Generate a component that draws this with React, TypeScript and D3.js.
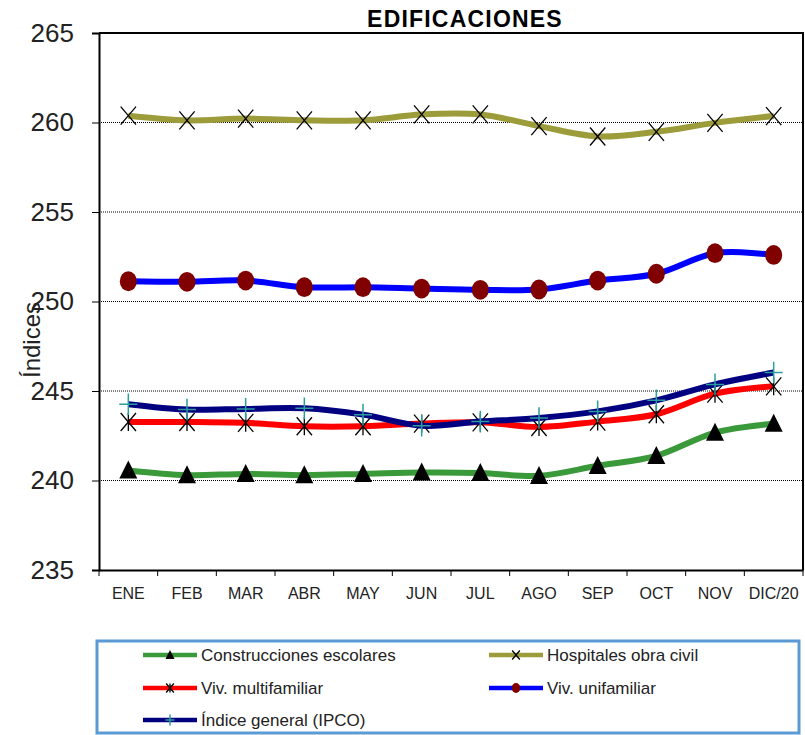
import React, { useEffect, useRef } from "react";
import * as d3 from "d3";

const months = ["ENE", "FEB", "MAR", "ABR", "MAY", "JUN", "JUL", "AGO", "SEP", "OCT", "NOV", "DIC/20"];
const yTicks = [235, 240, 245, 250, 255, 260, 265];

const escolares = [240.56, 240.3, 240.37, 240.3, 240.37, 240.45, 240.42, 240.26, 240.82, 241.38, 242.68, 243.17];
const hospitales = [260.38, 260.12, 260.22, 260.12, 260.12, 260.45, 260.45, 259.8, 259.22, 259.48, 259.98, 260.36];
const multifamiliar = [243.27, 243.27, 243.22, 243.03, 243.03, 243.18, 243.25, 242.99, 243.29, 243.7, 244.85, 245.26];
const unifamiliar = [251.13, 251.1, 251.17, 250.8, 250.8, 250.72, 250.65, 250.67, 251.17, 251.55, 252.7, 252.6];
const ipco = [244.26, 243.96, 244.0, 244.03, 243.68, 243.06, 243.29, 243.49, 243.86, 244.48, 245.37, 246.03];

const series = [
  { name: "Construcciones escolares", values: escolares, color: "#3a9a3a", marker: "triangle" },
  { name: "Hospitales obra civil", values: hospitales, color: "#9c9c3a", marker: "x" },
  { name: "Viv. multifamiliar", values: multifamiliar, color: "#ff0000", marker: "star" },
  { name: "Viv. unifamiliar", values: unifamiliar, color: "#0000ff", marker: "circle" },
  { name: "Índice general (IPCO)", values: ipco, color: "#000080", marker: "plus" },
];

const W = 805, H = 735;
const margin = { top: 33, right: 2, bottom: 165, left: 99 };
const sans = "'Liberation Sans', Arial, sans-serif";

function drawMarker(g: any, type: string, x: number, y: number, s: number) {
  if (type === "triangle") {
    g.append("path")
      .attr("d", `M${x},${y - s * 1.1}L${x + s},${y + s * 0.9}L${x - s},${y + s * 0.9}Z`)
      .attr("fill", "#000");
  } else if (type === "x" || type === "star") {
    g.append("path")
      .attr("d", `M${x - s * 0.85},${y - s}L${x + s * 0.85},${y + s}M${x - s * 0.85},${y + s}L${x + s * 0.85},${y - s}`)
      .attr("stroke", "#000").attr("stroke-width", 1.3).attr("fill", "none");
    if (type === "star") {
      g.append("path").attr("d", `M${x},${y - s}L${x},${y + s}`)
        .attr("stroke", "#000").attr("stroke-width", 1.3);
    }
  } else if (type === "circle") {
    g.append("ellipse").attr("cx", x).attr("cy", y).attr("rx", s * 0.95).attr("ry", s * 1.1)
      .attr("fill", "#800000");
  } else if (type === "plus") {
    g.append("path")
      .attr("d", `M${x - s},${y}L${x + s},${y}M${x},${y - s * 1.2}L${x},${y + s * 1.2}`)
      .attr("stroke", "#2a9d9d").attr("stroke-width", 1.5);
  }
}

const App = () => {
  const svgRef = useRef<SVGSVGElement>(null);

  useEffect(() => {
    const svg = d3.select(svgRef.current);
    svg.selectAll("*").remove();

    const x = d3.scaleBand().domain(months).range([margin.left, W - margin.right]);
    const y = d3.scaleLinear().domain([235, 265]).range([H - margin.bottom, margin.top]);
    const cx = (m: string) => (x(m) as number) + x.bandwidth() / 2;

    svg.append("rect").attr("width", W).attr("height", H).attr("fill", "#fff");

    // gridlines
    svg.append("g").selectAll("line")
      .data(yTicks.filter(t => t > 235 && t < 265))
      .enter().append("line")
      .attr("x1", margin.left).attr("x2", W - margin.right)
      .attr("y1", d => y(d)).attr("y2", d => y(d))
      .attr("stroke", "#000").attr("stroke-width", 1).attr("stroke-dasharray", "1,1");

    // y axis
    const yAxis = svg.append("g")
      .attr("transform", `translate(${margin.left},0)`)
      .call(d3.axisLeft(y).tickValues(yTicks).tickSize(7).tickPadding(18));
    yAxis.select(".domain").attr("stroke-width", 2);
    yAxis.selectAll("text").attr("font-family", sans).attr("font-size", 26).attr("fill", "#222");

    // x axis
    const xAxis = svg.append("g")
      .attr("transform", `translate(0,${H - margin.bottom})`)
      .call(d3.axisBottom(x).tickSize(0).tickPadding(18));
    xAxis.select(".domain").attr("stroke-width", 2);
    xAxis.selectAll("text").attr("font-family", sans).attr("font-size", 16).attr("fill", "#222");
    svg.append("g").selectAll("line")
      .data(d3.range(months.length + 1))
      .enter().append("line")
      .attr("x1", i => margin.left + i * x.step()).attr("x2", i => margin.left + i * x.step())
      .attr("y1", H - margin.bottom).attr("y2", H - margin.bottom + 6)
      .attr("stroke", "#000").attr("stroke-width", 1);

    // frame top / right
    svg.append("path")
      .attr("d", `M${margin.left},${margin.top}H${W - margin.right}V${H - margin.bottom}`)
      .attr("fill", "none").attr("stroke", "#000").attr("stroke-width", 2);

    // lines
    const line = d3.line<number>()
      .x((_, i) => cx(months[i]))
      .y(d => y(d))
      .curve(d3.curveCardinal.tension(0));

    series.forEach(s => {
      const g = svg.append("g");
      g.append("path").attr("d", line(s.values) as string)
        .attr("fill", "none").attr("stroke", s.color).attr("stroke-width", 6)
        .attr("stroke-linejoin", "round");
      s.values.forEach((v, i) => drawMarker(g, s.marker, cx(months[i]), y(v), 9));
    });

    // title
    svg.append("text").attr("x", 465).attr("y", 27).attr("text-anchor", "middle")
      .attr("font-family", sans).attr("font-weight", "bold").attr("font-size", 23)
      .attr("letter-spacing", 1.2)
      .text("EDIFICACIONES");

    // y title
    svg.append("text").attr("transform", "translate(40,340) rotate(-90)")
      .attr("text-anchor", "middle").attr("font-family", sans).attr("font-size", 24)
      .attr("fill", "#222").text("Índices");

    // legend
    svg.append("rect").attr("x", 97).attr("y", 641).attr("width", 702).attr("height", 92)
      .attr("fill", "#fff").attr("stroke", "#5b9bd5").attr("stroke-width", 3);
    const pos = [[143, 655], [489, 655], [143, 688], [489, 688], [143, 720]];
    series.forEach((s, i) => {
      const [lx, ly] = pos[i];
      const g = svg.append("g");
      g.append("line").attr("x1", lx).attr("x2", lx + 54).attr("y1", ly).attr("y2", ly)
        .attr("stroke", s.color).attr("stroke-width", 4.5);
      drawMarker(g, s.marker, lx + 27, ly, 4.5);
      g.append("text").attr("x", lx + 58).attr("y", ly).attr("dy", "0.35em")
        .attr("font-family", sans).attr("font-size", 17).attr("fill", "#222").text(s.name);
    });
  }, []);

  return (
    <svg ref={svgRef} width={W} height={H} style={{ position: "absolute", left: 0, top: 0 }} />
  );
};

export default App;
